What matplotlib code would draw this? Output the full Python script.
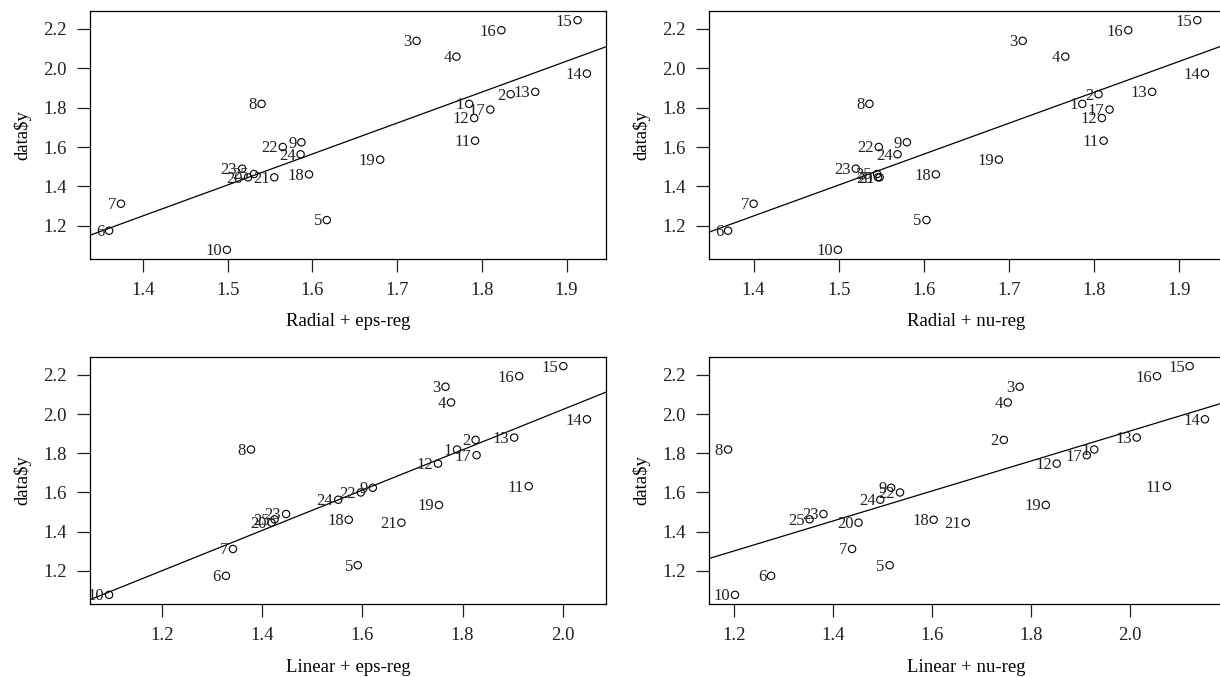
import matplotlib
matplotlib.use("Agg")
import matplotlib.pyplot as plt
from matplotlib.ticker import MultipleLocator

plt.rcParams['font.family'] = ['Liberation Serif', 'DejaVu Serif']

# observed values, labelled 1..25
y_obs = [1.819, 1.868, 2.139, 2.059, 1.229, 1.175, 1.312, 1.819, 1.624, 1.078,
         1.632, 1.747, 1.880, 1.973, 2.244, 2.193, 1.790, 1.461, 1.536, 1.446,
         1.446, 1.600, 1.490, 1.563, 1.463]
point_ids = [str(i) for i in range(1, 26)]

# predictions of the four models
radial_eps = [1.785, 1.834, 1.723, 1.770, 1.617, 1.360, 1.374, 1.540, 1.587, 1.499,
              1.792, 1.791, 1.863, 1.924, 1.913, 1.823, 1.810, 1.596, 1.680, 1.524,
              1.555, 1.565, 1.517, 1.586, 1.531]
radial_nu = [1.786, 1.805, 1.716, 1.766, 1.603, 1.370, 1.400, 1.536, 1.580, 1.499,
             1.811, 1.809, 1.868, 1.930, 1.921, 1.840, 1.818, 1.614, 1.688, 1.546,
             1.548, 1.547, 1.520, 1.569, 1.545]
linear_eps = [1.789, 1.826, 1.766, 1.777, 1.591, 1.328, 1.342, 1.378, 1.621, 1.095,
              1.932, 1.751, 1.903, 2.048, 2.001, 1.913, 1.828, 1.573, 1.753, 1.419,
              1.678, 1.597, 1.448, 1.552, 1.425]
linear_nu = [1.928, 1.745, 1.777, 1.753, 1.514, 1.274, 1.438, 1.187, 1.517, 1.201,
             2.075, 1.852, 2.014, 2.152, 2.121, 2.055, 1.913, 1.603, 1.830, 1.451,
             1.668, 1.535, 1.380, 1.495, 1.352]

# fitted lines (intercept, slope)
line_coefs = [(-0.949, 1.571), (-0.948, 1.570), (-0.033, 1.028), (0.387, 0.763)]
titles = ["Radial + eps-reg", "Radial + nu-reg", "Linear + eps-reg", "Linear + nu-reg"]
preds = [radial_eps, radial_nu, linear_eps, linear_nu]
x_steps = [0.1, 0.1, 0.2, 0.2]

W, H = 1220, 677
fig = plt.figure(figsize=(W / 100, H / 100), dpi=100)

# boxes in pixels: left, top, right, bottom
boxes = [(90, 11, 606, 259), (709, 11, 1224, 259),
         (90, 357, 606, 604), (709, 357, 1224, 604)]

def r_range(v):
    # R style 4% padding
    lo, hi = min(v), max(v)
    d = (hi - lo) * 0.04
    return lo - d, hi + d

for k in range(4):
    l, t, r, b = boxes[k]
    ax = fig.add_axes([l / W, 1 - b / H, (r - l) / W, (b - t) / H])
    x = preds[k]
    ax.scatter(x, y_obs, s=28, facecolors='none', edgecolors='black', linewidths=0.8, zorder=3)
    for xi, yi, lab in zip(x, y_obs, point_ids):
        ax.annotate(lab, (xi, yi), xytext=(-3.5, -1), textcoords='offset points',
                    ha='right', va='center', fontsize=12, color='#222222')
    ax.set_xlim(r_range(x))
    ax.set_ylim(r_range(y_obs))
    a, m = line_coefs[k]
    ax.axline((0, a), slope=m, color='black', lw=0.9)
    ax.xaxis.set_major_locator(MultipleLocator(x_steps[k]))
    ax.yaxis.set_major_locator(MultipleLocator(0.2))
    ax.tick_params(direction='out', length=9.5, width=0.9, pad=7, labelsize=13.5,
                   colors='#222222')
    for sp in ax.spines.values():
        sp.set_linewidth(0.9)
    ax.set_xlabel(titles[k], fontsize=13.5)
    ax.set_ylabel("data$y", fontsize=13.5)
    ax.xaxis.set_label_coords(0.5, -63 / (b - t))
    ax.xaxis.label.set_va('center')
    ax.yaxis.set_label_coords(-68 / (r - l), 0.5)
    ax.yaxis.label.set_va('center')

fig.savefig("out.png", dpi=100)
